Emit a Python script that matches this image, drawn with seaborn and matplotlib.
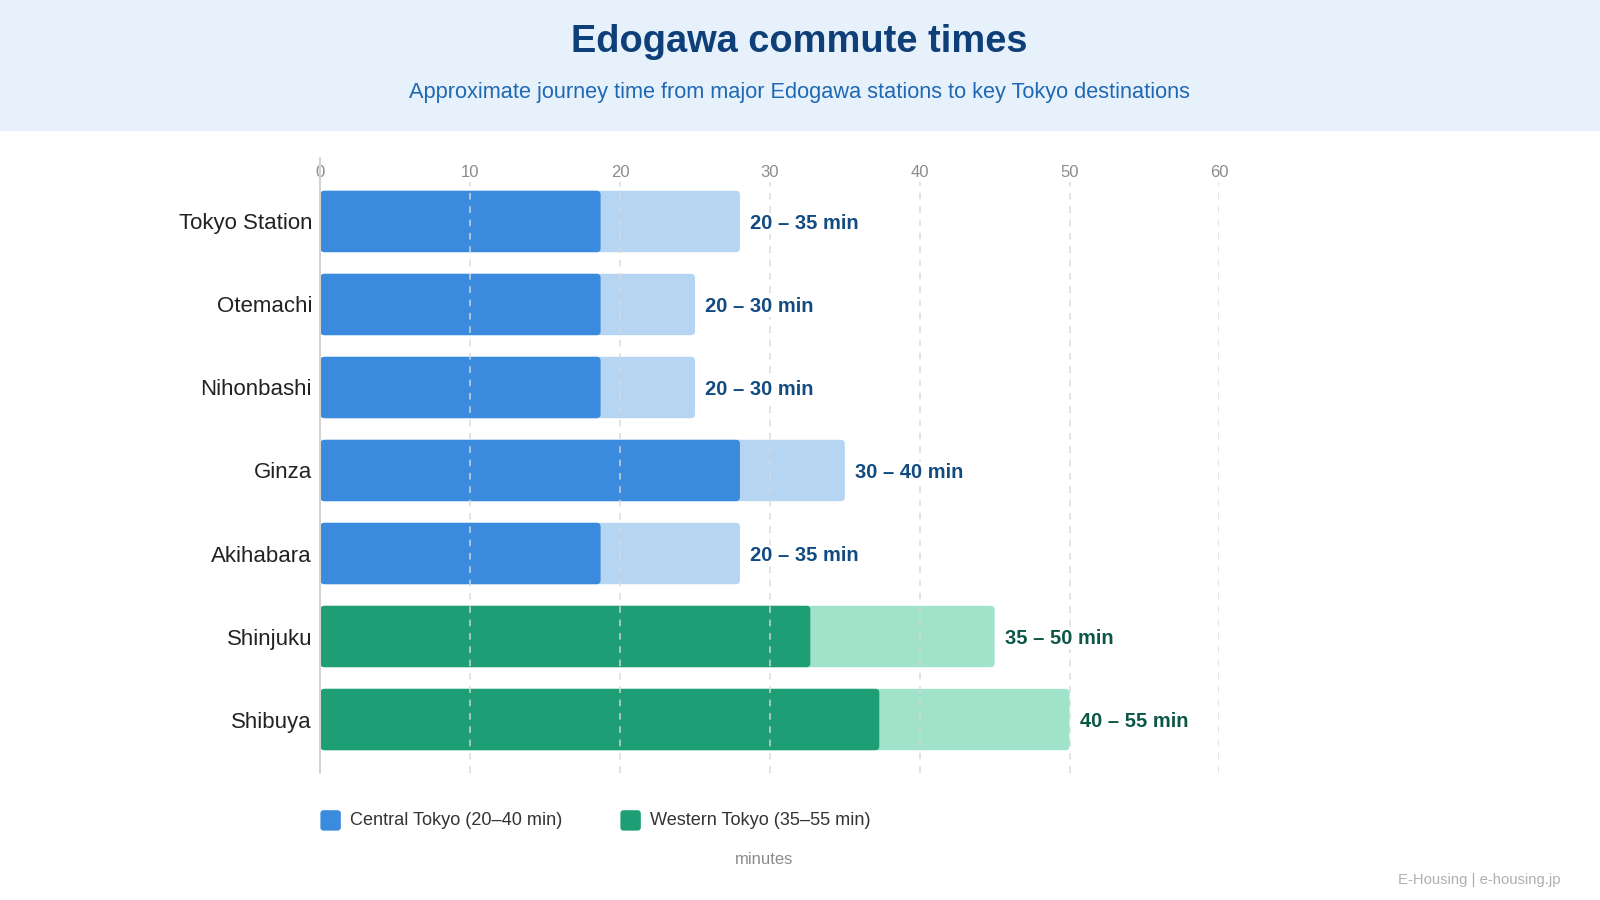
import matplotlib
matplotlib.use("Agg")
import matplotlib.pyplot as plt
from matplotlib.patches import FancyBboxPatch, Rectangle
import seaborn as sns
import pandas as pd

# data
stations = ['Tokyo Station', 'Otemachi', 'Nihonbashi', 'Ginza', 'Akihabara', 'Shinjuku', 'Shibuya']
region = ['Central', 'Central', 'Central', 'Central', 'Central', 'Western', 'Western']
fast_min = [18.7, 18.7, 18.7, 28.0, 18.7, 32.7, 37.3]
slow_min = [28.0, 25.0, 25.0, 35.0, 28.0, 45.0, 50.0]
range_labels = ['20 – 35 min', '20 – 30 min', '20 – 30 min', '30 – 40 min',
                '20 – 35 min', '35 – 50 min', '40 – 55 min']
legend_labels = {'Central': 'Central Tokyo (20–40 min)', 'Western': 'Western Tokyo (35–55 min)'}
x_ticks = [0, 10, 20, 30, 40, 50, 60]

dark = {'Central': '#3a8ade', 'Western': '#1e9e74'}
light = {'Central': '#b6d5f3', 'Western': '#a1e2cb'}
text_col = {'Central': '#124b82', 'Western': '#0c5646'}

df = pd.DataFrame({'station': stations, 'region': region, 'fast': fast_min, 'slow': slow_min})

# layout measured on a 1568 x 882 view of the reference
W, H = 1568, 882
def fx(px): return px / W
def fy(py): return 1 - py / H

sns.set_style("white")
plt.rcParams['font.family'] = ['Liberation Sans', 'DejaVu Sans']

fig = plt.figure(figsize=(16, 9), dpi=100)
fig.patches.append(Rectangle((0, fy(127)), 1, 127 / H, transform=fig.transFigure,
                             color='#e7f1fb', zorder=0))
fig.text(fx(783), fy(37), 'Edogawa commute times', ha='center', va='center_baseline',
         fontsize=27.4, fontweight='bold', color='#0f3f78')
fig.text(fx(783), fy(88.5), 'Approximate journey time from major Edogawa stations to key Tokyo destinations',
         ha='center', va='center_baseline', fontsize=15.7, color='#1f68b3')

ax = fig.add_axes([fx(314), fy(758), (1195 - 314) / W, (758 - 178) / H])

sns.barplot(data=df, x='slow', y='station', hue='station', dodge=False, legend=False,
            palette=[light[r] for r in region], width=0.74, ax=ax, saturation=1)
sns.barplot(data=df, x='fast', y='station', hue='station', dodge=False, legend=False,
            palette=[dark[r] for r in region], width=0.74, ax=ax, saturation=1)

ax.set_xlim(0, 60)
ax.set_ylim(6.65, -0.48)

# rounded bar corners
px_x = (1195 - 314) / 60
px_y = 81.3
for p in list(ax.patches):
    x0, y0, w, h = p.get_x(), p.get_y(), p.get_width(), p.get_height()
    fc = p.get_facecolor()
    p.remove()
    ax.add_patch(FancyBboxPatch((x0, y0), w, h,
                                boxstyle=f"round,pad=0,rounding_size={4 / px_x}",
                                mutation_aspect=px_x / px_y, fc=fc, ec='none', zorder=2))

for i, (s, lab, r) in enumerate(zip(slow_min, range_labels, region)):
    ax.text(s + 10 / px_x, i, lab, va='center_baseline', ha='left', fontsize=14.5,
            fontweight='bold', color=text_col[r], zorder=6,
            bbox=dict(boxstyle='square,pad=0.05', fc='white', ec='none'))

for t in x_ticks:
    if t == 0:
        continue
    ax.axvline(t, color='#d8d8d8', lw=1.2, ls=(0, (4, 4)), zorder=3, alpha=0.85)

ax.plot([0, 0], [0, 1.04], transform=ax.transAxes, color='#d6d3cf', lw=1.5, clip_on=False, zorder=4)

ax.xaxis.tick_top()
ax.set_xticks(x_ticks)
ax.tick_params(axis='x', length=0, pad=1, labelsize=12, labelcolor='#8c8c8c')
ax.tick_params(axis='y', length=0, pad=6, labelsize=16, labelcolor='#222222')
ax.set_xlabel('')
ax.set_ylabel('')
for sp in ax.spines.values():
    sp.set_visible(False)

# legend keys with rounded corners
for (key, text), kx in zip(legend_labels.items(), [314, 608]):
    fig.patches.append(FancyBboxPatch((fx(kx), fy(814)), 20 / W, 20 / H,
                                      boxstyle=f"round,pad=0,rounding_size={3 / W}",
                                      mutation_aspect=W / H,
                                      transform=fig.transFigure, fc=dark[key], ec='none'))
    fig.text(fx(kx + 29), fy(804), text, ha='left', va='center', fontsize=13.1, color='#333333')

fig.text(fx(749), fy(842), 'minutes', ha='center', va='center', fontsize=12, color='#8c8c8c')
fig.text(fx(1529), fy(862), 'E-Housing | e-housing.jp', ha='right', va='center',
         fontsize=10.7, color='#b0b0b0')

fig.savefig('out.png', dpi=100)
